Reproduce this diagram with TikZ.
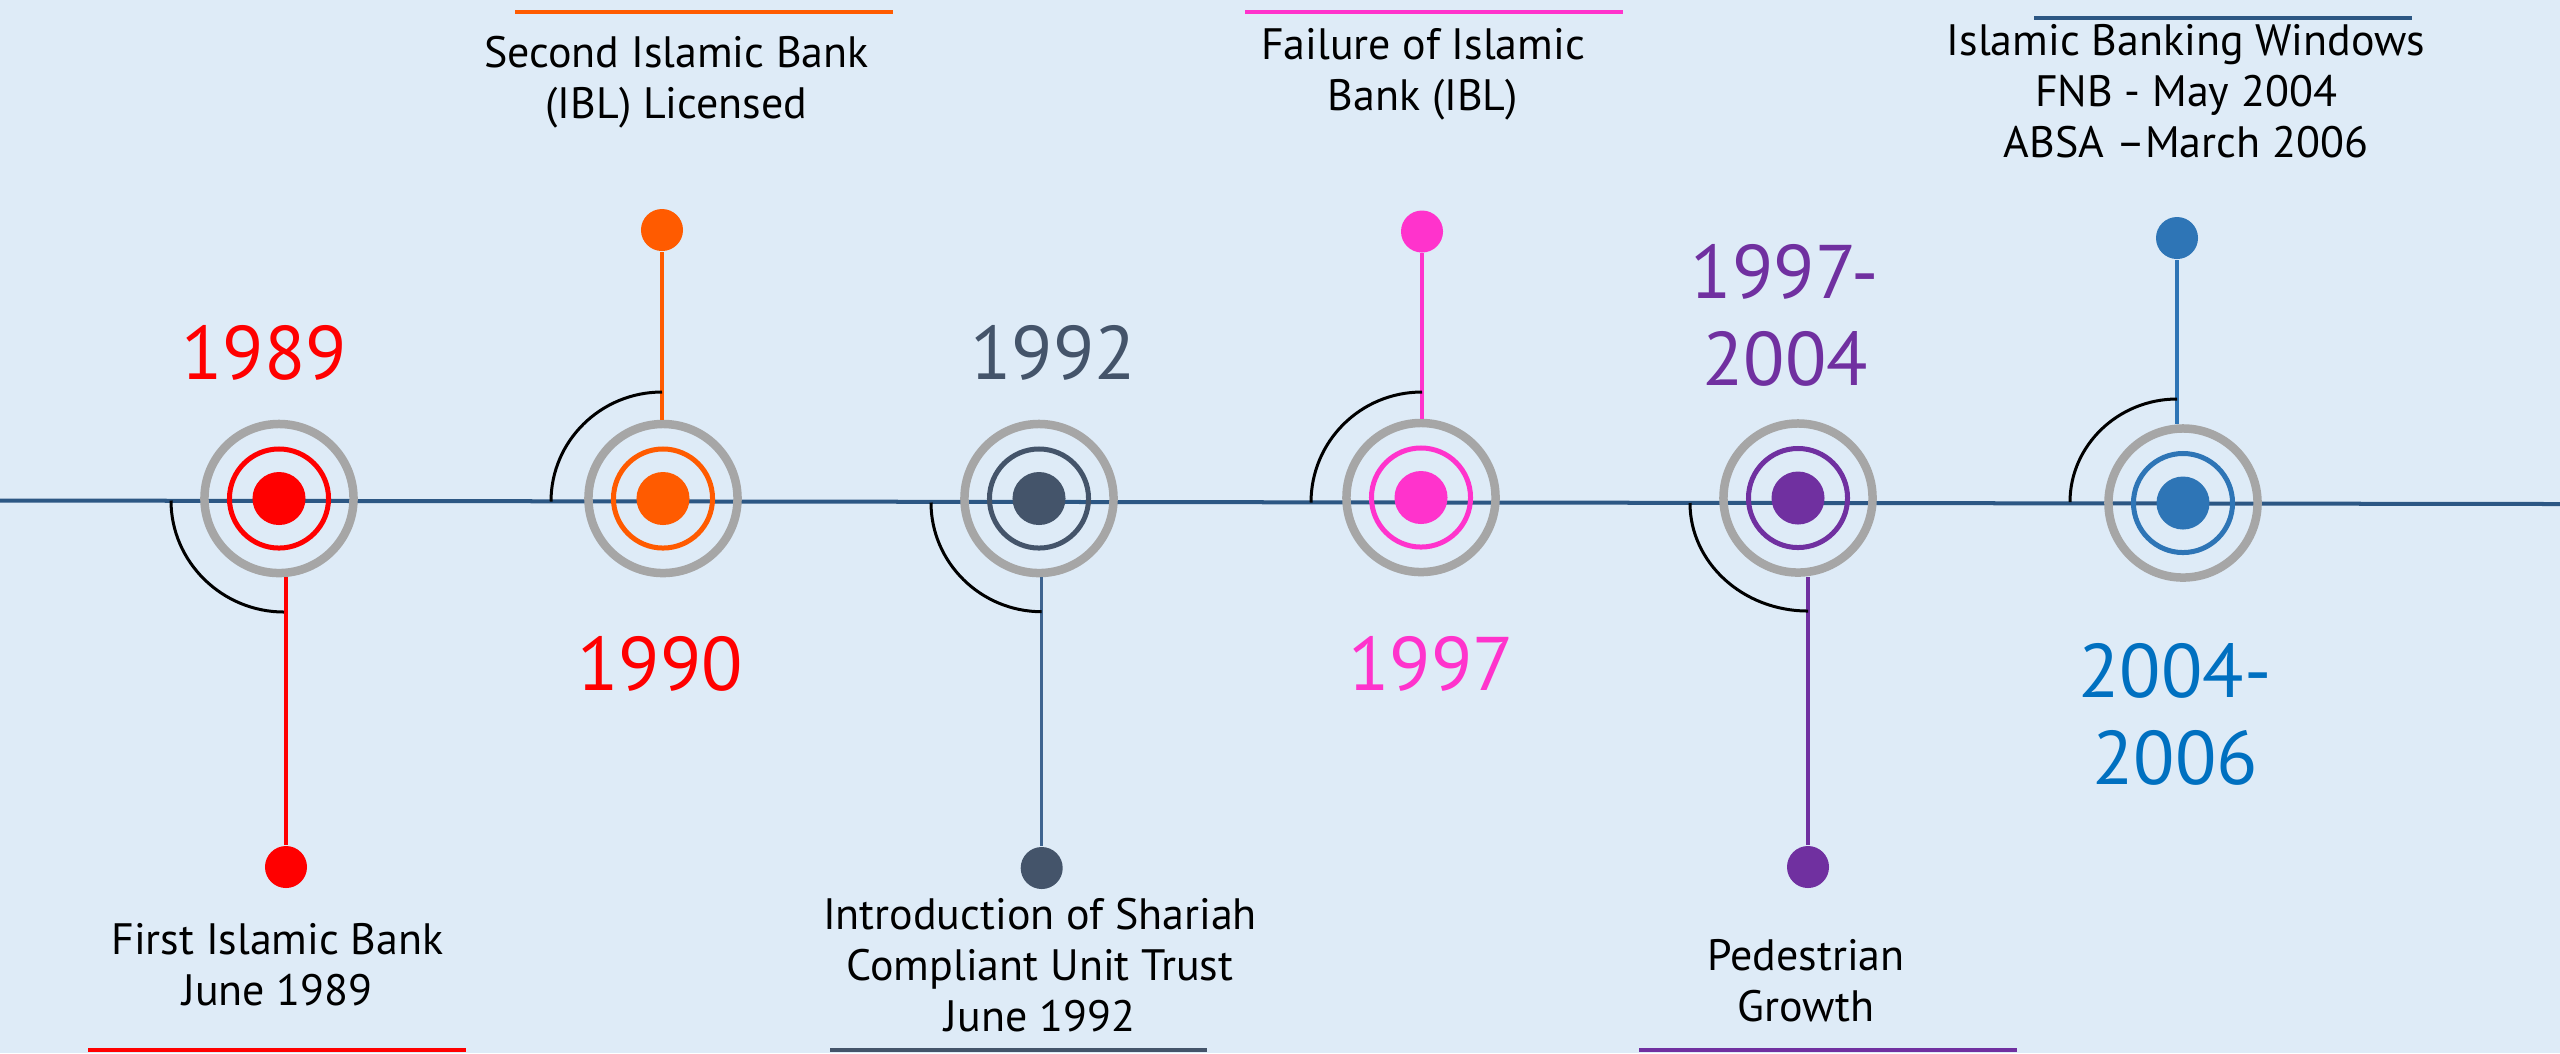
\documentclass[tikz,border=0pt]{standalone}
\usepackage{fontspec}
\setmainfont{PT Sans}
\definecolor{bg}{HTML}{DEEBF7}
\definecolor{tline}{HTML}{2C5784}
\definecolor{cred}{HTML}{FF0000}
\definecolor{corange}{HTML}{FF5B00}
\definecolor{cslate}{HTML}{44546A}
\definecolor{cslatestem}{HTML}{3E6490}
\definecolor{cpink}{HTML}{FF33CC}
\definecolor{cpurple}{HTML}{7030A0}
\definecolor{cblue}{HTML}{2E75B6}
\definecolor{cyear}{HTML}{0070C0}
\definecolor{ringgray}{HTML}{A6A6A6}
\begin{document}
\begin{tikzpicture}[x=0.01cm,y=-0.01cm,
  ring/.style={circle, draw=ringgray, line width=0.85mm, minimum size=14.9mm, inner sep=0pt},
  inring/.style={circle, draw=#1, line width=0.5mm, minimum size=9.9mm, inner sep=0pt},
  core/.style={circle, fill=#1, minimum size=5.3mm, inner sep=0pt},
  enddot/.style={circle, fill=#1, minimum size=4.2mm, inner sep=0pt},
  stem/.style={draw=#1, line width=0.35mm},
  arcline/.style={draw=black, line width=0.3mm},
  bar/.style={draw=#1, line width=0.4mm},
  lbl/.style={font=\fontsize{12.5}{14.5}\selectfont, align=center, inner sep=0pt, anchor=base, text=black},
  yr/.style={font=\fontsize{21.6}{24.5}\selectfont, align=center, inner sep=0pt, anchor=base, text=#1}
]
\fill[bg] (0,0) rectangle (2560,1053);
\useasboundingbox (0,0) rectangle (2560,1053);

% timeline
\coordinate (L) at (0,500.5);
\coordinate (R) at (2560,504);
\draw[draw=tline, line width=0.4mm] (L) -- (R);

% ---- 1989
\node[ring] (r1) at (279,498.5) {};
\node[inring=cred] (i1) at (279,498.5) {};
\node[core=cred] (c1) at (279,498.5) {};
\node[enddot=cred] (d1) at (286,867) {};
\draw[stem=cred] (d1 |- r1.south) -- (d1);
\coordinate (a1s) at (171,500.5);
\coordinate (a1e) at (284,612);
\draw[arcline] (a1s) .. controls (171,562.1) and (222.2,612) .. (a1e);
\node[yr=cred] (y1) at (264,379) {1989};
\node[lbl] (t1) at (277.5,1005) {First Islamic Bank\\June 1989};
\draw[bar=cred] (88,1050) -- (466,1050);

% ---- 1990
\node[ring] (r2) at (663,498.5) {};
\node[inring=corange] (i2) at (663,498.5) {};
\node[core=corange] (c2) at (663,498.5) {};
\node[enddot=corange] (d2) at (662,230) {};
\draw[stem=corange] (d2 |- r2.north) -- (d2);
\coordinate (a2s) at (551,501.5);
\coordinate (a2e) at (662,392);
\draw[arcline] (a2s) .. controls (551,441) and (600.7,392) .. (a2e);
\node[yr=cred] (y2) at (660,690) {1990};
\node[lbl] (t2) at (676.5,118) {Second Islamic Bank\\(IBL) Licensed};
\draw[bar=corange] (515,11.7) -- (893,11.7);

% ---- 1992
\node[ring] (r3) at (1039,498.5) {};
\node[inring=cslate] (i3) at (1039,498.5) {};
\node[core=cslate] (c3) at (1039,498.5) {};
\node[enddot=cslate] (d3) at (1041.7,868) {};
\draw[stem=cslatestem] (d3 |- r3.south) -- (d3);
\coordinate (a3s) at (931,502.5);
\coordinate (a3e) at (1041.7,611.7);
\draw[arcline] (a3s) .. controls (931,562.7) and (980.9,611.7) .. (a3e);
\node[yr=cslate] (y3) at (1053,379) {1992};
\node[lbl] (t3) at (1040,1031) {Introduction of Shariah\\Compliant Unit Trust\\June 1992};
\draw[bar=cslate] (830,1050) -- (1207,1050);

% ---- 1997
\node[ring] (r4) at (1421,497.5) {};
\node[inring=cpink] (i4) at (1421,497.5) {};
\node[core=cpink] (c4) at (1421,497.5) {};
\node[enddot=cpink] (d4) at (1422,231.5) {};
\draw[stem=cpink] (d4 |- r4.north) -- (d4);
\coordinate (a4s) at (1311,502.5);
\coordinate (a4e) at (1422,392);
\draw[arcline] (a4s) .. controls (1311,441.5) and (1360.3,392) .. (a4e);
\node[yr=cpink] (y4) at (1431,690) {1997};
\node[lbl] (t4) at (1423,110) {Failure of Islamic\\Bank (IBL)};
\draw[bar=cpink] (1245,11.7) -- (1623,11.7);

% ---- 1997-2004
\node[ring] (r5) at (1798,498) {};
\node[inring=cpurple] (i5) at (1798,498) {};
\node[core=cpurple] (c5) at (1798,498) {};
\node[enddot=cpurple] (d5) at (1808,867) {};
\draw[stem=cpurple] (d5 |- r5.south) -- (d5);
\coordinate (a5s) at (1690,503);
\coordinate (a5e) at (1808,611);
\draw[arcline] (a5s) .. controls (1690,562.6) and (1742.8,611) .. (a5e);
\node[yr=cpurple] (y5) at (1785,385) {1997-\\2004};
\node[lbl] (t5) at (1806,1021.7) {Pedestrian\\Growth};
\draw[bar=cpurple] (1639,1050) -- (2017,1050);

% ---- 2004-2006
\node[ring] (r6) at (2183,503) {};
\node[inring=cblue] (i6) at (2183,503) {};
\node[core=cblue] (c6) at (2183,503) {};
\node[enddot=cblue] (d6) at (2177,238) {};
\draw[stem=cblue] (d6 |- r6.north) -- (d6);
\coordinate (a6s) at (2070,502);
\coordinate (a6e) at (2177,399);
\draw[arcline] (a6s) .. controls (2070,445.1) and (2118.5,399) .. (a6e);
\node[yr=cyear] (y6) at (2175,784) {2004-\\2006};
\node[lbl] (t6) at (2186,157) {Islamic Banking Windows\\FNB - May 2004\\ABSA –March 2006};
\draw[bar=tline] (2034,18) -- (2412,18);
\end{tikzpicture}
\end{document}
